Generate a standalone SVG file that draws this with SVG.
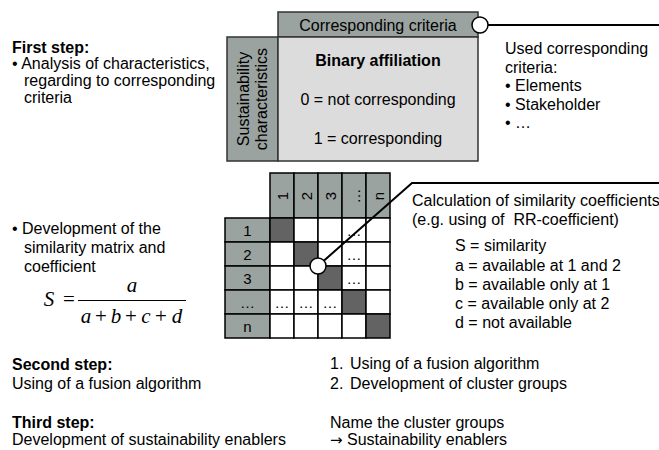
<svg xmlns="http://www.w3.org/2000/svg" width="659" height="450" viewBox="0 0 659 450">
<style>
text{font-family:"Liberation Sans",Arial,sans-serif;font-size:16px;fill:#000}
.b{font-weight:bold}
.m{text-anchor:middle}
.hdr{fill:#9aa39f;stroke:#333;stroke-width:1.5}
.lt{fill:#dcdcdc;stroke:#333;stroke-width:1.5}
.cell{fill:#fff;stroke:#000;stroke-width:1.5}
.dk{fill:#636363;stroke:#000;stroke-width:1.5}
.mh{fill:#9aa39f;stroke:#000;stroke-width:1.5}
.ml{font-size:15px;text-anchor:middle}
.f{font-family:"Liberation Serif","Times New Roman",serif;font-size:21px;text-anchor:middle}
.i{font-style:italic}
.con{stroke:#000;stroke-width:2;fill:none}
.dot{fill:#fff;stroke:#000;stroke-width:1.5}
.arr{font-family:"DejaVu Sans",sans-serif;font-size:15px}
</style>

<g id="step1-text">
<text x="12" y="53" class="b">First step:</text>
<text x="12" y="69">• Analysis of characteristics,</text>
<text x="24" y="86">regarding to corresponding</text>
<text x="24" y="103">criteria</text>
</g>

<g id="binary-box">
<rect x="278" y="12" width="200" height="25" class="hdr"/>
<text x="378" y="31" class="m">Corresponding criteria</text>
<rect x="227" y="37" width="51" height="124" class="hdr"/>
<text transform="translate(249,99) rotate(-90)" class="m">Sustainability</text>
<text transform="translate(267,99) rotate(-90)" class="m">characteristics</text>
<rect x="278" y="37" width="200" height="124" class="lt"/>
<text x="378" y="66" class="m b">Binary affiliation</text>
<text x="378" y="105" class="m">0 = not corresponding</text>
<text x="378" y="144" class="m">1 = corresponding</text>
</g>

<g id="criteria-text">
<text x="505" y="54">Used corresponding</text>
<text x="505" y="72.5">criteria:</text>
<text x="505" y="91">• Elements</text>
<text x="505" y="109.5">• Stakeholder</text>
<text x="505" y="128">• …</text>
</g>

<g id="matrix-text">
<text x="12" y="234">• Development of the</text>
<text x="24" y="253">similarity matrix and</text>
<text x="24" y="272">coefficient</text>
</g>

<g id="formula">
<text x="49" y="306" class="f i">S</text>
<text x="69" y="306" class="f">=</text>
<text x="132" y="292" class="f i">a</text>
<line x1="78" y1="300.5" x2="186" y2="300.5" stroke="#000" stroke-width="1.2"/>
<text x="86" y="323" class="f i">a</text>
<text x="101" y="323" class="f">+</text>
<text x="116" y="323" class="f i">b</text>
<text x="131" y="323" class="f">+</text>
<text x="146" y="323" class="f i">c</text>
<text x="161" y="323" class="f">+</text>
<text x="177" y="323" class="f i">d</text>
</g>

<g id="matrix">
<rect x="270" y="173" width="24" height="45" class="mh"/>
<rect x="294" y="173" width="24" height="45" class="mh"/>
<rect x="318" y="173" width="24" height="45" class="mh"/>
<rect x="342" y="173" width="24" height="45" class="mh"/>
<rect x="366" y="173" width="24" height="45" class="mh"/>
<text transform="translate(287.5,196) rotate(-90)" class="ml">1</text>
<text transform="translate(311.5,196) rotate(-90)" class="ml">2</text>
<text transform="translate(335.5,196) rotate(-90)" class="ml">3</text>
<text transform="translate(359.5,196) rotate(-90)" class="ml">…</text>
<text transform="translate(383.5,196) rotate(-90)" class="ml">n</text>

<rect x="225" y="218" width="45" height="24" class="mh"/>
<rect x="225" y="242" width="45" height="24" class="mh"/>
<rect x="225" y="266" width="45" height="24" class="mh"/>
<rect x="225" y="290" width="45" height="24" class="mh"/>
<rect x="225" y="314" width="45" height="24" class="mh"/>
<text x="247.5" y="235.5" class="ml">1</text>
<text x="247.5" y="259.5" class="ml">2</text>
<text x="247.5" y="283.5" class="ml">3</text>
<text x="247.5" y="307.5" class="ml">…</text>
<text x="247.5" y="331.5" class="ml">n</text>

<rect x="270" y="218" width="24" height="24" class="dk"/>
<rect x="294" y="218" width="24" height="24" class="cell"/>
<rect x="318" y="218" width="24" height="24" class="cell"/>
<rect x="342" y="218" width="24" height="24" class="cell"/>
<rect x="366" y="218" width="24" height="24" class="cell"/>

<rect x="270" y="242" width="24" height="24" class="cell"/>
<rect x="294" y="242" width="24" height="24" class="dk"/>
<rect x="318" y="242" width="24" height="24" class="cell"/>
<rect x="342" y="242" width="24" height="24" class="cell"/>
<rect x="366" y="242" width="24" height="24" class="cell"/>

<rect x="270" y="266" width="24" height="24" class="cell"/>
<rect x="294" y="266" width="24" height="24" class="cell"/>
<rect x="318" y="266" width="24" height="24" class="dk"/>
<rect x="342" y="266" width="24" height="24" class="cell"/>
<rect x="366" y="266" width="24" height="24" class="cell"/>

<rect x="270" y="290" width="24" height="24" class="cell"/>
<rect x="294" y="290" width="24" height="24" class="cell"/>
<rect x="318" y="290" width="24" height="24" class="cell"/>
<rect x="342" y="290" width="24" height="24" class="dk"/>
<rect x="366" y="290" width="24" height="24" class="cell"/>

<rect x="270" y="314" width="24" height="24" class="cell"/>
<rect x="294" y="314" width="24" height="24" class="cell"/>
<rect x="318" y="314" width="24" height="24" class="cell"/>
<rect x="342" y="314" width="24" height="24" class="cell"/>
<rect x="366" y="314" width="24" height="24" class="dk"/>

<text x="354" y="235.5" class="ml">…</text>
<text x="354" y="259.5" class="ml">…</text>
<text x="354" y="283.5" class="ml">…</text>
<text x="282" y="307.5" class="ml">…</text>
<text x="306" y="307.5" class="ml">…</text>
<text x="330" y="307.5" class="ml">…</text>
</g>

<g id="similarity-text">
<text x="412" y="206">Calculation of similarity coefficients</text>
<text x="412" y="225">(e.g. using of&#160; RR-coefficient)</text>
<text x="455" y="251">S = similarity</text>
<text x="455" y="270.5">a = available at 1 and 2</text>
<text x="455" y="289.5">b = available only at 1</text>
<text x="455" y="308.5">c = available only at 2</text>
<text x="455" y="327.5">d = not available</text>
</g>

<g id="connectors">
<polyline points="488,25 659,25" class="con"/>
<circle cx="480" cy="25" r="8" class="dot"/>
<polyline points="319,265 412,183 659,183" class="con"/>
<circle cx="318" cy="266" r="8" class="dot"/>
</g>

<g id="steps-left">
<text x="12" y="370" class="b">Second step:</text>
<text x="12" y="389">Using of a fusion algorithm</text>
<text x="12" y="428" class="b">Third step:</text>
<text x="12" y="445">Development of sustainability enablers</text>
</g>

<g id="steps-right">
<text x="330" y="369">1.<tspan x="350">Using of a fusion algorithm</tspan></text>
<text x="330" y="389">2.<tspan x="350">Development of cluster groups</tspan></text>
<text x="330" y="428">Name the cluster groups</text>
<text x="330" y="445"><tspan class="arr">→</tspan> Sustainability enablers</text>
</g>
</svg>
